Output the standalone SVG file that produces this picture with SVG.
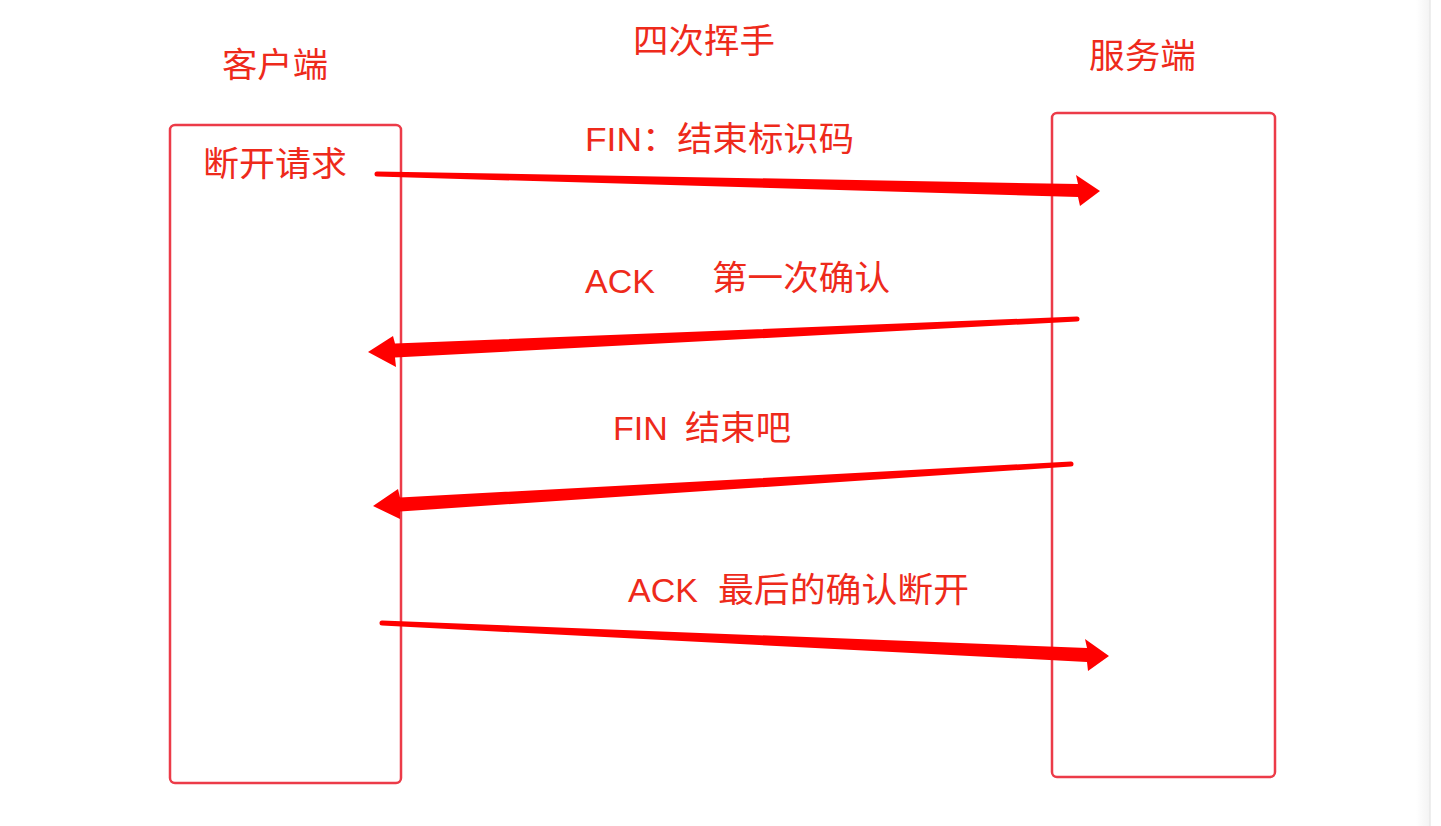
<svg xmlns="http://www.w3.org/2000/svg" width="1441" height="826" viewBox="0 0 1441 826">
<style>
.box{fill:none;stroke:#ec3b48;stroke-width:2.5}
.t{fill:#ee2a1b;font-family:"Liberation Sans","Noto Sans CJK SC",sans-serif;font-size:34px}
.arrow{fill:#ff0000}
</style>
<defs>
<linearGradient id="shade" x1="0" y1="0" x2="1" y2="0">
<stop offset="0" stop-color="#ffffff"/>
<stop offset="1" stop-color="#f3f3f3"/>
</linearGradient>
</defs>
<rect x="0" y="0" width="1441" height="826" fill="#ffffff"/>
<g id="side-panel">
<rect x="1416" y="0" width="14" height="826" fill="url(#shade)"/>
<line x1="1430" y1="0" x2="1430" y2="826" stroke="#e8e8e8" stroke-width="1.5"/>
</g>
<g id="title"><text class="t" x="633" y="53" textLength="142" lengthAdjust="spacingAndGlyphs">四次挥手</text></g>
<g id="client">
<text class="t" x="222" y="77" textLength="106" lengthAdjust="spacingAndGlyphs">客户端</text>
<rect class="box" x="170" y="125" width="231" height="658" rx="5"/>
<text class="t" x="203" y="176" textLength="144" lengthAdjust="spacingAndGlyphs">断开请求</text>
</g>
<g id="server">
<text class="t" x="1089" y="68" textLength="107" lengthAdjust="spacingAndGlyphs">服务端</text>
<rect class="box" x="1052" y="113" width="223" height="664" rx="5"/>
</g>
<g id="connectors">
<path class="arrow" d="M377,171.5 L1078,184 L1076,175 L1100,191 L1080,206 L1078,197 L377,176.5 A2.5,2.5 0 0 1 377,171.5 Z"/>
<path class="arrow" d="M1077,316.5 L395,343.5 L393,336 L368,352 L396,367 L395,357.5 L1077,321.5 A2.5,2.5 0 0 0 1077,316.5 Z"/>
<path class="arrow" d="M1071,461.5 L400,497.5 L398,489 L373,506 L400,519 L400,511.5 L1071,466.5 A2.5,2.5 0 0 0 1071,461.5 Z"/>
<path class="arrow" d="M382,620.5 L1087,648 L1085,639 L1109,656 L1088,671 L1087,662 L382,625.5 A2.5,2.5 0 0 1 382,620.5 Z"/>
</g>
<g id="labels">
<text class="t" x="585" y="151" textLength="269" lengthAdjust="spacingAndGlyphs">FIN：结束标识码</text>
<text class="t" y="293"><tspan x="585">ACK</tspan><tspan x="712" y="290" textLength="178" lengthAdjust="spacingAndGlyphs">第一次确认</tspan></text>
<text class="t" y="440"><tspan x="613">FIN</tspan><tspan x="685" textLength="106" lengthAdjust="spacingAndGlyphs">结束吧</tspan></text>
<text class="t" y="602"><tspan x="628">ACK</tspan><tspan x="718" textLength="251" lengthAdjust="spacingAndGlyphs">最后的确认断开</tspan></text>
</g>
</svg>
